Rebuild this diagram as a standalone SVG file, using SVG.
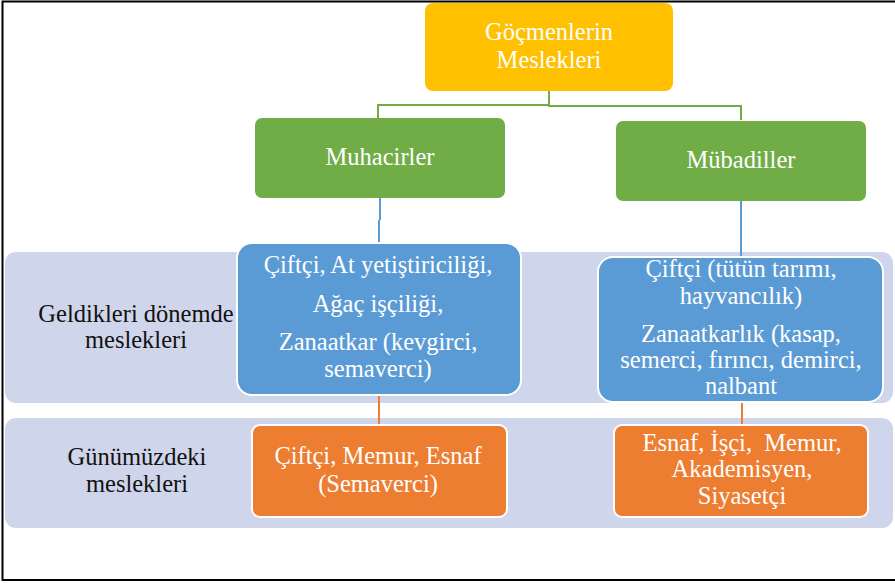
<svg xmlns="http://www.w3.org/2000/svg" width="895" height="583" viewBox="0 0 895 583">
<style>
text{font-family:"Liberation Serif","Times New Roman",serif;font-size:24.5px;text-anchor:middle}
.w{fill:#FFFFFF}
.k{fill:#111111}
.band{fill:#CFD5EA}
.conn{fill:none;stroke-width:2}
</style>
<rect x="0" y="0" width="895" height="583" fill="#FFFFFF"/>
<rect x="2.5" y="1.5" width="900" height="578.5" fill="none" stroke="#000000" stroke-width="2"/>

<g id="band-geldikleri">
<rect class="band" x="5" y="252" width="888" height="151" rx="11"/>
<text class="k" x="136" y="322">Geldikleri dönemde</text>
<text class="k" x="136" y="348">meslekleri</text>
</g>
<g id="band-gunumuz">
<rect class="band" x="5" y="418" width="888" height="110" rx="11"/>
<text class="k" x="137" y="465">Günümüzdeki</text>
<text class="k" x="137" y="492">meslekleri</text>
</g>

<g id="connectors">
<path class="conn" stroke="#70AD47" d="M549,91 V105 H378 V118"/>
<path class="conn" stroke="#70AD47" d="M549,105 V106 H741 V120"/>
<path class="conn" stroke="#5B9BD5" d="M380,198 V220 M379,220 V243"/>
<path class="conn" stroke="#5B9BD5" d="M741,201 V257"/>
<path class="conn" stroke="#ED7D31" d="M379,395 V425"/>
<path class="conn" stroke="#ED7D31" d="M742,402 V425"/>
</g>

<g id="node-gocmenlerin">
<rect x="425" y="3" width="248" height="88" rx="8" fill="#FFC000"/>
<text class="w" x="549" y="40">Göçmenlerin</text>
<text class="w" x="549" y="68">Meslekleri</text>
</g>

<g id="node-muhacirler">
<rect x="255" y="118" width="250" height="80" rx="7" fill="#70AD47"/>
<text class="w" x="380" y="165">Muhacirler</text>
</g>

<g id="node-mubadiller">
<rect x="616" y="121" width="250" height="80" rx="7" fill="#70AD47"/>
<text class="w" x="741" y="168">Mübadiller</text>
</g>

<g id="node-muhacir-gecmis">
<rect x="237" y="243" width="284" height="152" rx="15" fill="#5B9BD5" stroke="#FFFFFF" stroke-width="2"/>
<text class="w" x="378" y="273">Çiftçi, At yetiştiriciliği,</text>
<text class="w" x="378" y="312">Ağaç işçiliği,</text>
<text class="w" x="378" y="350">Zanaatkar (kevgirci,</text>
<text class="w" x="378" y="377">semaverci)</text>
</g>

<g id="node-mubadil-gecmis">
<rect x="598" y="257" width="285" height="145" rx="15" fill="#5B9BD5" stroke="#FFFFFF" stroke-width="2"/>
<text class="w" x="741" y="277">Çiftçi (tütün tarımı,</text>
<text class="w" x="741" y="304">hayvancılık)</text>
<text class="w" x="741" y="342">Zanaatkarlık (kasap,</text>
<text class="w" x="741" y="368">semerci, fırıncı, demirci,</text>
<text class="w" x="741" y="394">nalbant</text>
</g>

<g id="node-muhacir-bugun">
<rect x="252" y="425" width="255" height="92" rx="8" fill="#ED7D31" stroke="#FFFFFF" stroke-width="2"/>
<text class="w" x="378" y="464">Çiftçi, Memur, Esnaf</text>
<text class="w" x="378" y="492">(Semaverci)</text>
</g>

<g id="node-mubadil-bugun">
<rect x="614" y="425" width="254" height="92" rx="8" fill="#ED7D31" stroke="#FFFFFF" stroke-width="2"/>
<text class="w" x="742" y="451" xml:space="preserve">Esnaf, İşçi,  Memur,</text>
<text class="w" x="742" y="477">Akademisyen,</text>
<text class="w" x="742" y="504">Siyasetçi</text>
</g>
</svg>
